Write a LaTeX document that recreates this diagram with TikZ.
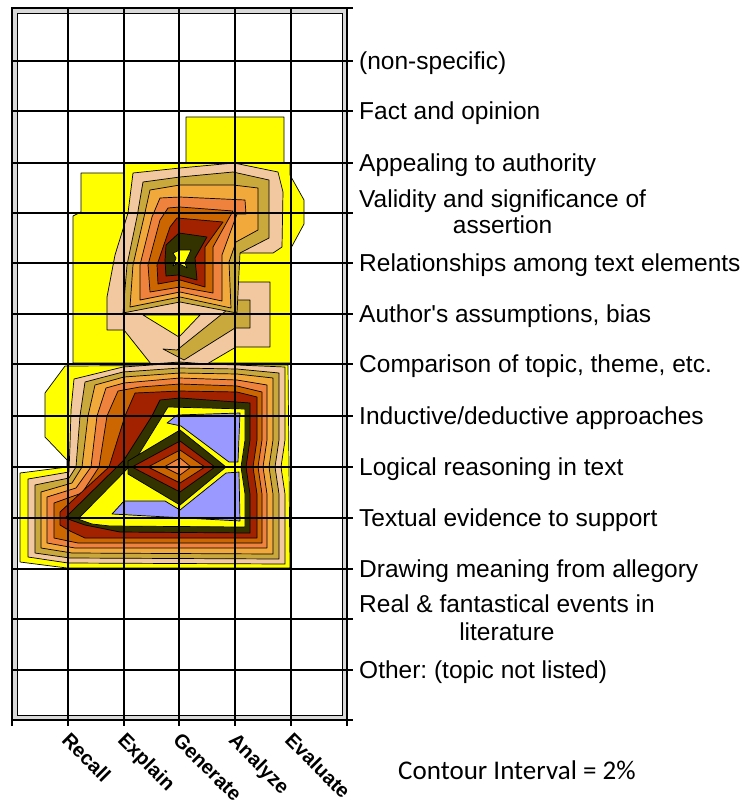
\documentclass[tikz,border=0pt]{standalone}
\usepackage{fontspec}
\setmainfont{Liberation Sans}[Ligatures=TeXOff]
\newfontfamily\calib{Carlito}
\definecolor{cY}{HTML}{FFFF00}
\definecolor{cP}{HTML}{F2C8A0}
\definecolor{cO}{HTML}{C9A83C}
\definecolor{cLO}{HTML}{F2A93C}
\definecolor{cOr}{HTML}{EF833D}
\definecolor{cDO}{HTML}{CC6600}
\definecolor{cR}{HTML}{A22200}
\definecolor{cK}{HTML}{333300}
\definecolor{cB}{HTML}{9999FF}
\frenchspacing
\begin{document}
\begin{tikzpicture}[x=1pt,y=-1pt,
  ct/.style={draw=black,line width=0.7pt,line join=round},
  gridln/.style={draw=black,line width=1.2pt},
  lab/.style={anchor=base west,inner sep=0pt,font=\fontsize{24.5}{26}\selectfont},
  xlab/.style={anchor=north west,inner sep=0pt,rotate=-45,font=\bfseries\fontsize{20}{20}\selectfont}]
\useasboundingbox (0,0) rectangle (748,806);
\fill[white] (0,0) rectangle (748,806);
% frame band
\fill[gray!30] (12,8) rectangle (347,720);
\fill[white] (17,13) rectangle (342,715);

% ===== TOP BLOB =====
\filldraw[ct,fill=cY] (81,173) -- (124,173) -- (124,163) -- (186,163) -- (186,117) -- (284,117) -- (284,163) -- (290,163) -- (290,175) -- (304,200) -- (304,224) -- (291,248) -- (291,363) -- (73,363) -- (73,216) -- (81,212) -- cycle;
\filldraw[ct,fill=cP] (133,173) -- (180,168) -- (234,163) -- (278,172) -- (283,192) -- (282,247) -- (273,253) -- (237,253) -- (237,282) -- (270,282) -- (270,347) -- (236,347) -- (207,364) -- (180,362) -- (151,364) -- (124,330) -- (107,330) -- (107,297) -- (115,255) -- (128,213) -- cycle;
\filldraw[ct,fill=cY] (143,315) -- (200,315) -- (179,337) -- cycle;
\filldraw[ct,fill=cO] (232,306) -- (235,300) -- (250,300) -- (250,328) -- (235,328) -- (184,360) -- (163,349) -- (177,350) -- cycle;
\filldraw[ct,fill=cO] (143,182) -- (180,177) -- (233,172) -- (269,180) -- (269,238) -- (240,253) -- (237,313) -- (180,302) -- (123,313) -- (127,265) -- (137,217) -- cycle;
\filldraw[ct,fill=cLO] (150,190) -- (180,185) -- (233,185) -- (258,188) -- (258,230) -- (236,242) -- (229,262) -- (231,308) -- (180,297) -- (130,307) -- (133,265) -- (144,217) -- cycle;
\filldraw[ct,fill=cOr] (160,198) -- (180,197) -- (245,200) -- (246,214) -- (237,214) -- (222,255) -- (222,301) -- (180,292) -- (140,300) -- (140,265) -- (152,217) -- cycle;
\filldraw[ct,fill=cDO] (168,208) -- (180,207) -- (233,211) -- (213,247) -- (213,293) -- (180,287) -- (150,292) -- (148,265) -- (160,220) -- cycle;
\filldraw[ct,fill=cR] (177,218) -- (223,222) -- (205,247) -- (205,287) -- (180,280) -- (158,284) -- (157,265) -- (170,227) -- cycle;
\filldraw[ct,fill=cK] (179,233) -- (207,237) -- (195,258) -- (197,280) -- (178,275) -- (166,276) -- (165,260) -- (166,245) -- cycle;
\filldraw[ct,fill=cY] (173,253) -- (180,250) -- (191,250) -- (185,263) -- (187,268) -- (178,263) -- (173,266) -- (176,258) -- cycle;

% ===== BOTTOM BLOB =====
\filldraw[ct,fill=cY] (65,366) -- (288,365) -- (290,568) -- (67,568) -- (20,562) -- (20,473) -- (67,467) -- (67,460) -- (45,437) -- (45,393) -- cycle;
\filldraw[ct,fill=cP] (74,379) -- (123,367) -- (180,363) -- (237,365) -- (285,367) -- (285,440) -- (281,467) -- (285,494) -- (285,564) -- (68,563) -- (28,557) -- (28,479) -- (69,472) -- (70,445) -- (71,410) -- cycle;
\filldraw[ct,fill=cO] (85,382) -- (123,372) -- (180,368) -- (237,369) -- (279,373) -- (279,440) -- (275,467) -- (279,494) -- (279,559) -- (70,558) -- (35,553) -- (35,485) -- (69,478) -- (76,467) -- (80,416) -- cycle;
\filldraw[ct,fill=cLO] (95,385) -- (124,377) -- (180,373) -- (237,374) -- (273,378) -- (273,440) -- (269,467) -- (273,494) -- (273,554) -- (72,553) -- (41,548) -- (41,492) -- (72,483) -- (82,467) -- (88,416) -- cycle;
\filldraw[ct,fill=cOr] (106,388) -- (124,383) -- (180,378) -- (237,380) -- (267,385) -- (267,440) -- (263,467) -- (267,494) -- (267,548) -- (75,548) -- (47,543) -- (47,497) -- (76,488) -- (91,467) -- (97,416) -- cycle;
\filldraw[ct,fill=cDO] (118,391) -- (140,387) -- (180,384) -- (237,386) -- (262,392) -- (262,440) -- (258,467) -- (262,494) -- (262,543) -- (78,543) -- (54,538) -- (54,503) -- (82,493) -- (99,467) -- (107,416) -- cycle;
\filldraw[ct,fill=cR] (135,393) -- (180,391) -- (237,392) -- (257,397) -- (257,440) -- (253,467) -- (257,494) -- (257,538) -- (85,538) -- (70,531) -- (60,525) -- (60,512) -- (109,467) -- (125,416) -- cycle;
\filldraw[ct,fill=cK] (160,400) -- (180,398) -- (250,403) -- (250,440) -- (246,467) -- (250,494) -- (250,533) -- (120,532) -- (85,525) -- (65,518) -- (124,460) -- (152,416) -- cycle;
\filldraw[ct,fill=cY] (168,407) -- (245,409) -- (245,440) -- (241,467) -- (245,494) -- (245,527) -- (110,526) -- (92,524) -- (78,519) -- (134,462) -- (163,415) -- cycle;
\filldraw[ct,fill=cK] (128,461) -- (180,430) -- (226,467) -- (180,505) -- (128,474) -- cycle;
\filldraw[ct,fill=cR] (132,467) -- (180,441) -- (215,467) -- (180,492) -- cycle;
\filldraw[ct,fill=cDO] (148,467) -- (180,450) -- (205,467) -- (180,483) -- cycle;
\filldraw[ct,fill=cOr] (164,467) -- (180,458) -- (191,467) -- (180,475) -- cycle;
\filldraw[ct,fill=cB] (167,423) -- (177,415) -- (240,413) -- (238,462) -- (229,462) -- (181,426) -- cycle;
\filldraw[ct,fill=cB] (112,514) -- (124,501) -- (165,501) -- (180,510) -- (226,473) -- (239,472) -- (240,521) -- cycle;

% ===== GRID =====
\foreach \gx in {12,68,124,179,235,291,347} \draw[gridln] (\gx,8) -- (\gx,726);
\foreach \gy in {8,61,111,163,213,263,314,364,416,467,518,569,619,670,720} \draw[gridln] (12,\gy) -- (353,\gy);
\draw[line width=1.5pt] (12,8) rectangle (347,720);
\draw[line width=0.8pt] (17,13) rectangle (342,715);

% ===== LABELS =====
\node[lab] (l1) at (359,69) {(non-specific)};
\node[lab] (l2) at (359,119) {Fact and opinion};
\node[lab] (l3) at (359,171) {Appealing to authority};
\node[lab] (l4a) at (359,207) {Validity and significance of};
\node[lab,anchor=base] (l4b) at ([yshift=-26pt]l4a.base) {assertion};
\node[lab] (l5) at (359,271) {Relationships among text elements};
\node[lab] (l6) at (359,322) {Author's assumptions, bias};
\node[lab] (l7) at (359,372) {Comparison of topic, theme, etc.};
\node[lab] (l8) at (359,424) {Inductive/deductive approaches};
\node[lab] (l9) at (359,475) {Logical reasoning in text};
\node[lab] (l10) at (359,526) {Textual evidence to support};
\node[lab] (l11) at (359,577) {Drawing meaning from allegory};
\node[lab] (l12a) at (359,612) {Real \& fantastical events in};
\node[lab,anchor=base] (l12b) at ([yshift=-28pt]l12a.base) {literature};
\node[lab] (l13) at (359,678) {Other: (topic not listed)};

\node[xlab] (xRecall) at (71,731) {Recall};
\node[xlab] (xExplain) at (127,731) {Explain};
\node[xlab] (xGenerate) at (182,731) {Generate};
\node[xlab] (xAnalyze) at (238,731) {Analyze};
\node[xlab] (xEvaluate) at (294,731) {Evaluate};

\node[anchor=base west,inner sep=0pt,font=\calib\fontsize{27}{27}\selectfont] (ci) at (398,779) {Contour Interval = 2\%};
\end{tikzpicture}
\end{document}
